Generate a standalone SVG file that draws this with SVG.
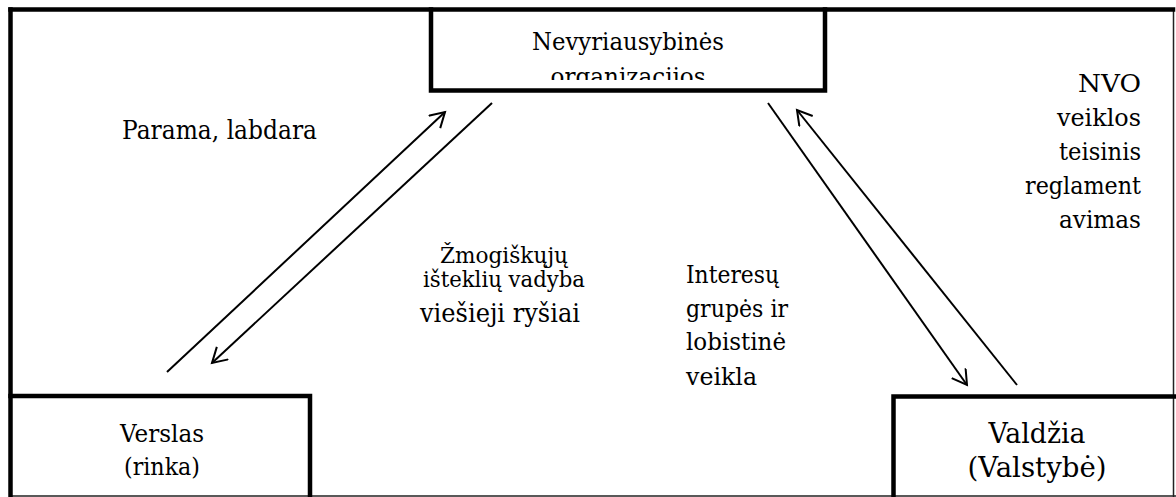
<svg xmlns="http://www.w3.org/2000/svg" width="1176" height="497" viewBox="0 0 1176 497">
<style>
text{font-family:"DejaVu Serif","Liberation Serif",serif;fill:#000}
.thick{stroke:#000;stroke-width:4.5;fill:none;stroke-linecap:square}
.thin{stroke:#222;stroke-width:1.5;fill:none}
.conn{stroke:#000;stroke-width:2;fill:none}
</style>
<defs>
<marker id="ah" markerUnits="userSpaceOnUse" markerWidth="22" markerHeight="22" refX="15" refY="9" orient="auto">
<path d="M0.5,0.5 L15,9 L0.5,17.5" fill="none" stroke="#000" stroke-width="2"/>
</marker>
<clipPath id="ngoclip"><rect x="433" y="12" width="390" height="68"/></clipPath>
</defs>
<rect width="1176" height="497" fill="#fff"/>
<g id="frame">
<line class="thin" x1="1173.5" y1="10" x2="1173.5" y2="497"/>
<line class="thin" x1="10" y1="496" x2="1176" y2="496"/>
<line class="thick" x1="10.5" y1="9.5" x2="1173" y2="9.5"/>
<line class="thick" x1="10.5" y1="9.5" x2="10.5" y2="497"/>
</g>
<g id="ngo">
<path class="thick" d="M431,9.5 V90.5 H825 V9.5"/>
<text x="628" y="50" font-size="25" text-anchor="middle" textLength="192" lengthAdjust="spacingAndGlyphs">Nevyriausybinės</text>
<text x="628" y="85" font-size="25" text-anchor="middle" textLength="155" lengthAdjust="spacingAndGlyphs" clip-path="url(#ngoclip)">organizacijos</text>
</g>
<g id="verslas">
<path class="thick" d="M10.5,396 H310 V497"/>
<text x="162" y="442" font-size="24.5" text-anchor="middle" textLength="84" lengthAdjust="spacingAndGlyphs">Verslas</text>
<text x="162" y="475" font-size="24.5" text-anchor="middle" textLength="76" lengthAdjust="spacingAndGlyphs">(rinka)</text>
</g>
<g id="valdzia">
<path class="thick" d="M893.5,497 V396.5 H1176"/>
<text x="1037" y="443" font-size="28" text-anchor="middle" textLength="97" lengthAdjust="spacingAndGlyphs">Valdžia</text>
<text x="1037" y="477" font-size="28" text-anchor="middle" textLength="139" lengthAdjust="spacingAndGlyphs">(Valstybė)</text>
</g>
<g id="connectors">
<line class="conn" x1="167" y1="372" x2="445" y2="112" marker-end="url(#ah)"/>
<line class="conn" x1="492" y1="103" x2="212" y2="363" marker-end="url(#ah)"/>
<line class="conn" x1="768" y1="103" x2="967" y2="385" marker-end="url(#ah)"/>
<line class="conn" x1="1017" y1="385" x2="797" y2="110" marker-end="url(#ah)"/>
</g>
<g id="labels">
<text x="122" y="139" font-size="26" textLength="195" lengthAdjust="spacingAndGlyphs">Parama, labdara</text>
<text x="440" y="263" font-size="23" textLength="128" lengthAdjust="spacingAndGlyphs">Žmogiškųjų</text>
<text x="423" y="287" font-size="23" textLength="162" lengthAdjust="spacingAndGlyphs">išteklių vadyba</text>
<text x="420" y="322" font-size="26" textLength="160" lengthAdjust="spacingAndGlyphs">viešieji ryšiai</text>
<text x="686" y="283" font-size="25" textLength="93" lengthAdjust="spacingAndGlyphs">Interesų</text>
<text x="686" y="317" font-size="25" textLength="102" lengthAdjust="spacingAndGlyphs">grupės ir</text>
<text x="686" y="350" font-size="25" textLength="100" lengthAdjust="spacingAndGlyphs">lobistinė</text>
<text x="686" y="385" font-size="25" textLength="71" lengthAdjust="spacingAndGlyphs">veikla</text>
<text x="1141" y="92" font-size="25" text-anchor="end" textLength="63" lengthAdjust="spacingAndGlyphs">NVO</text>
<text x="1141" y="126" font-size="25" text-anchor="end" textLength="84" lengthAdjust="spacingAndGlyphs">veiklos</text>
<text x="1141" y="160" font-size="25" text-anchor="end" textLength="82" lengthAdjust="spacingAndGlyphs">teisinis</text>
<text x="1141" y="194" font-size="25" text-anchor="end" textLength="116" lengthAdjust="spacingAndGlyphs">reglament</text>
<text x="1141" y="228" font-size="25" text-anchor="end" textLength="82" lengthAdjust="spacingAndGlyphs">avimas</text>
</g>
</svg>
